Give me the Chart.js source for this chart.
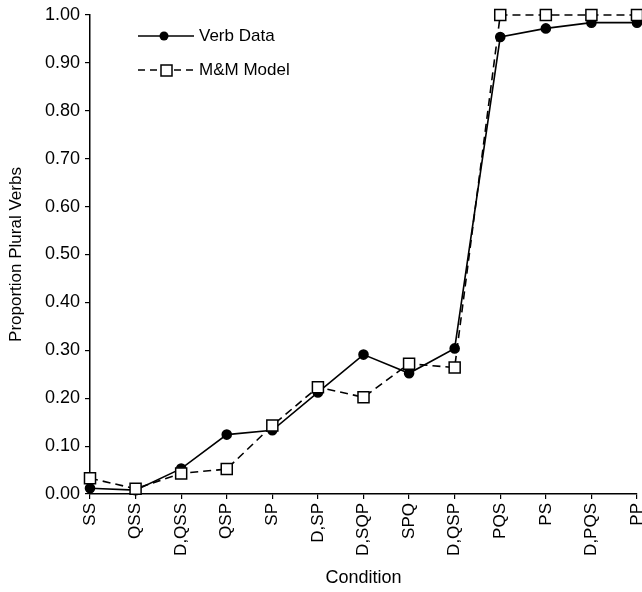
<!DOCTYPE html>
<html>
<head>
<meta charset="utf-8">
<title>Proportion Plural Verbs by Condition</title>
<script src="https://cdn.jsdelivr.net/npm/chart.js@4"></script>
<style>
    html, body { margin: 0; padding: 0; background: #fff; }
    #wrap { width: 642px; height: 592px; position: relative; }
</style>
</head>
<body>
<div id="wrap"><canvas id="chart" width="642" height="592"></canvas></div>
<script>
// data
const conditions = ['SS', 'QSS', 'D,QSS', 'QSP', 'SP', 'D,SP', 'D,SQP', 'SPQ', 'D,QSP', 'PQS', 'PS', 'D,PQS', 'PP'];
const verbData = [0.012, 0.008, 0.053, 0.124, 0.133, 0.212, 0.291, 0.252, 0.304, 0.954, 0.972, 0.984, 0.984];
const modelData = [0.033, 0.011, 0.043, 0.052, 0.143, 0.223, 0.202, 0.272, 0.264, 1.00, 1.00, 1.00, 1.00];
const yTicks = [0, 0.1, 0.2, 0.3, 0.4, 0.5, 0.6, 0.7, 0.8, 0.9, 1.0];

const FONT = '"Liberation Sans", Arial, sans-serif';
Chart.defaults.font.family = FONT;
Chart.defaults.font.size = 17;
Chart.defaults.color = '#000';

// legend drawn inside the plot, top left
const insideLegend = {
    id: 'insideLegend',
    afterDatasetsDraw(chart) {
        const ctx = chart.ctx;
        ctx.save();
        ctx.strokeStyle = '#000';
        ctx.lineWidth = 1.5;

        // Verb Data
        ctx.beginPath();
        ctx.moveTo(138, 36);
        ctx.lineTo(194, 36);
        ctx.stroke();
        ctx.beginPath();
        ctx.arc(164, 36, 4.5, 0, Math.PI * 2);
        ctx.fillStyle = '#000';
        ctx.fill();

        // M&M Model
        ctx.setLineDash([7, 5]);
        ctx.beginPath();
        ctx.moveTo(138, 70);
        ctx.lineTo(194, 70);
        ctx.stroke();
        ctx.setLineDash([]);
        ctx.fillStyle = '#fff';
        ctx.fillRect(161, 65, 11, 11);
        ctx.strokeRect(161, 65, 11, 11);

        ctx.fillStyle = '#000';
        ctx.font = '17px ' + FONT;
        ctx.textBaseline = 'middle';
        ctx.textAlign = 'left';
        ctx.fillText('Verb Data', 199, 36);
        ctx.fillText('M&M Model', 199, 70);
        ctx.restore();
    }
};

new Chart(document.getElementById('chart'), {
    type: 'line',
    data: {
        labels: conditions,
        datasets: [{
            label: 'Verb Data',
            data: verbData,
            borderColor: '#000',
            backgroundColor: '#000',
            borderWidth: 1.6,
            pointStyle: 'circle',
            pointRadius: 4.5,
            pointBackgroundColor: '#000',
            pointBorderColor: '#000',
            tension: 0,
            order: 2
        }, {
            label: 'M&M Model',
            data: modelData,
            borderColor: '#000',
            backgroundColor: '#fff',
            borderWidth: 1.6,
            borderDash: [8, 5],
            pointStyle: 'rect',
            pointRadius: 7.8,
            pointBorderWidth: 1.5,
            pointBackgroundColor: '#fff',
            pointBorderColor: '#000',
            tension: 0,
            order: 1
        }]
    },
    options: {
        responsive: false,
        animation: false,
        clip: false,
        layout: { autoPadding: false, padding: { top: 15, right: 5, left: 0, bottom: 0 } },
        plugins: {
            legend: { display: false },
            tooltip: { enabled: false }
        },
        scales: {
            x: {
                offset: false,
                border: { color: '#000', width: 1.5 },
                grid: { drawOnChartArea: false, drawTicks: true, tickLength: 5, color: '#000', lineWidth: 1.2 },
                ticks: { minRotation: 90, maxRotation: 90, autoSkip: false, padding: 4, font: { size: 17 } },
                title: { display: true, text: 'Condition', font: { size: 18 }, padding: { top: 0, bottom: 3 } },
                afterFit(scale) {
                    scale.height = 98;
                    scale.paddingLeft = 0;
                    scale.paddingRight = 0;
                }
            },
            y: {
                min: 0,
                max: 1,
                border: { color: '#000', width: 1.5 },
                grid: { drawOnChartArea: false, drawTicks: true, tickLength: 5, color: '#000', lineWidth: 1.2 },
                afterBuildTicks(scale) { scale.ticks = yTicks.map(v => ({ value: v })); },
                ticks: { padding: 5, font: { size: 18 }, callback: v => v.toFixed(2) },
                title: { display: true, text: 'Proportion Plural Verbs', font: { size: 17 }, padding: { top: 6, bottom: 0 } },
                afterFit(scale) {
                    scale.width = 90;
                    scale.paddingTop = 0;
                    scale.paddingBottom = 0;
                }
            }
        }
    },
    plugins: [insideLegend]
});
</script>
</body>
</html>
